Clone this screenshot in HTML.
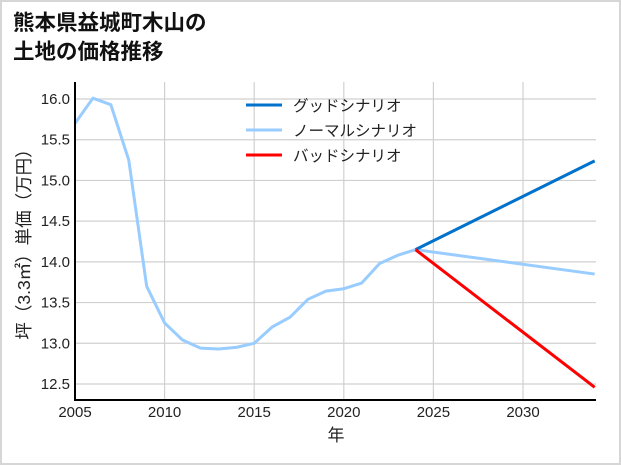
<!DOCTYPE html>
<html><head><meta charset="utf-8"><style>
html,body{margin:0;padding:0;background:#fff}
#wrap{position:relative;width:621px;height:465px;box-sizing:border-box;border:2px solid #d6d6d6;background:#fff;overflow:hidden}
svg text{font-family:"Liberation Sans Narrow","Liberation Sans","Noto Sans CJK JP",sans-serif;fill:#222}
</style></head><body>
<div id="wrap">
<svg id="c" width="621" height="465" style="position:absolute;left:-2px;top:-2px">
<text x="13" y="30" font-size="21.5" font-weight="bold" style="font-family:'Liberation Sans','Noto Sans CJK JP',sans-serif;fill:#111">熊本県益城町木山の</text>
<text x="13" y="59" font-size="21.5" font-weight="bold" style="font-family:'Liberation Sans','Noto Sans CJK JP',sans-serif;fill:#111">土地の価格推移</text>
<g id="grid"></g><g id="series"></g><g id="axes"></g><g id="legend"></g>
</svg>
</div>
<script>
const years=[2005,2006,2007,2008,2009,2010,2011,2012,2013,2014,2015,2016,2017,2018,2019,2020,2021,2022,2023,2024];
const normalValues=[15.70,16.01,15.93,15.25,13.70,13.25,13.04,12.94,12.93,12.95,13.00,13.20,13.32,13.54,13.64,13.67,13.74,13.98,14.08,14.15];
const scenarioYears=[2024,2034];
const goodValues=[14.15,15.24];
const normalFuture=[14.15,13.85];
const badValues=[14.15,12.46];
const xTicks=[2005,2010,2015,2020,2025,2030];
const yTicks=[12.5,13.0,13.5,14.0,14.5,15.0,15.5,16.0];
const legendLabels=["グッドシナリオ","ノーマルシナリオ","バッドシナリオ"];

const L=75,R=596,T=82,B=400;
const x=v=>L+(v-2005)*(523-75)/25;
const y=v=>99+(16-v)*(384-99)/3.5;
const NS="http://www.w3.org/2000/svg";
function mk(tag,attrs,parent){const e=document.createElementNS(NS,tag);for(const k in attrs)e.setAttribute(k,attrs[k]);parent.appendChild(e);return e;}
const grid=document.getElementById('grid'),ser=document.getElementById('series'),ax=document.getElementById('axes'),lg=document.getElementById('legend');
xTicks.forEach(t=>{
 if(t>2005){const g=mk('line',{x1:x(t),x2:x(t),y1:T,y2:B,stroke:'#d0d0d0','stroke-width':1.2},grid);
 
 }
 const tx=mk('text',{x:x(t),y:B+17,'font-size':15,'text-anchor':'middle'},ax);tx.textContent=t;
 
 
});
yTicks.forEach(t=>{
 const g=mk('line',{x1:L,x2:R,y1:y(t),y2:y(t),stroke:'#d0d0d0','stroke-width':1.2},grid);
 
 
 const tx=mk('text',{x:L-5,y:y(t)+5,'font-size':15,'text-anchor':'end'},ax);tx.textContent=t.toFixed(1);
 
 
});
function line(xs,vs,color,name){const p=mk('polyline',{points:xs.map((v,i)=>x(v)+','+y(vs[i])).join(' '),fill:'none',stroke:color,'stroke-width':3,'stroke-linejoin':'round'},ser);
 
 }
line(years,normalValues,'#99ccff','normal-history-line');
line(scenarioYears,normalFuture,'#99ccff','normal-scenario-line');
line(scenarioYears,goodValues,'#0072cc','good-scenario-line');
line(scenarioYears,badValues,'#ff0000','bad-scenario-line');
const a1=mk('line',{x1:L,x2:L,y1:T,y2:B+1,stroke:'#000','stroke-width':2},ax);


const a2=mk('line',{x1:L-1,x2:R,y1:B,y2:B,stroke:'#000','stroke-width':2},ax);


const xt=mk('text',{x:336,y:441,'font-size':17,'text-anchor':'middle'},ax);xt.textContent='年';


const yt=mk('text',{x:0,y:0,'font-size':17.5,'text-anchor':'middle',transform:'translate(30,240) rotate(-90)'},ax);yt.textContent='坪（3.3㎡）単価（万円）';


const colors=['#0072cc','#99ccff','#ff0000'];
legendLabels.forEach((l,i)=>{
 const yy=105+i*25;
 const ln=mk('line',{x1:246,x2:282,y1:yy,y2:yy,stroke:colors[i],'stroke-width':3},lg);
 
 
 const tx=mk('text',{x:293,y:yy+6,'font-size':15.5},lg);tx.textContent=l;
 
 
});
</script>
</body></html>
